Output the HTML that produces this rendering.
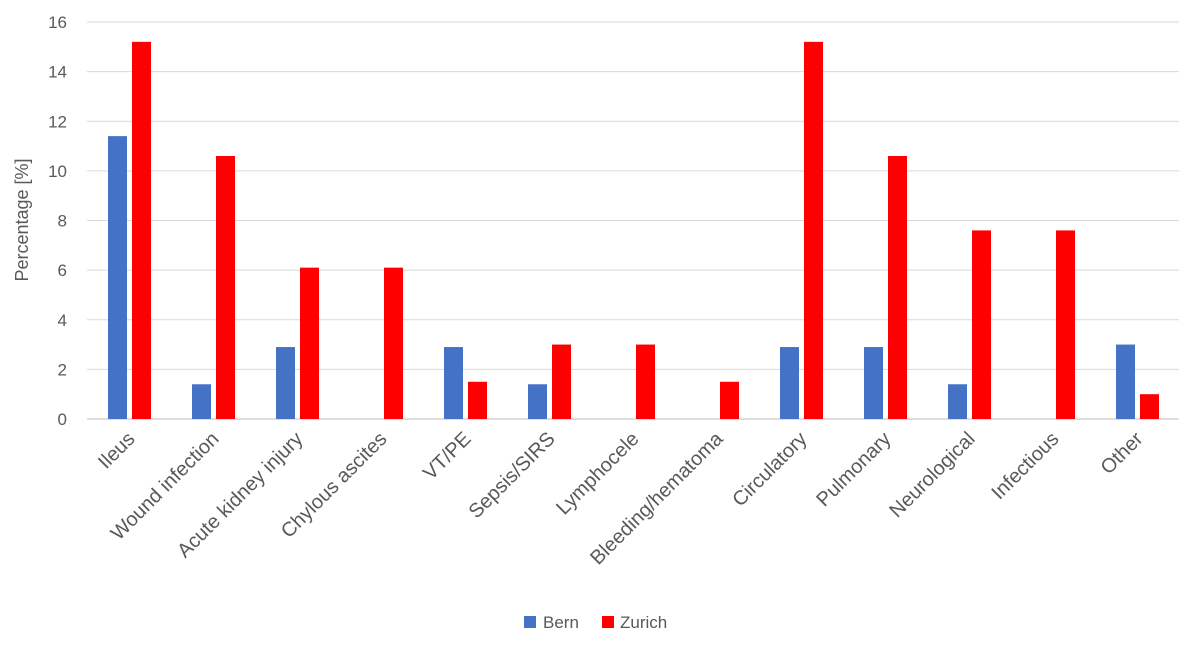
<!DOCTYPE html>
<html><head><meta charset="utf-8"><style>
body{margin:0;background:#fff;font-family:"Liberation Sans",Arial,sans-serif;}
svg text{font-family:"Liberation Sans",Arial,sans-serif;fill:#595959;}
</style></head><body>
<svg id="chart" width="1200" height="644" xmlns="http://www.w3.org/2000/svg"></svg>
<script>
const categories=["Ileus","Wound infection","Acute kidney injury","Chylous ascites","VT/PE","Sepsis/SIRS","Lymphocele","Bleeding/hematoma","Circulatory","Pulmonary","Neurological","Infectious","Other"];
const bern=[11.4,1.4,2.9,0,2.9,1.4,0,0,2.9,2.9,1.4,0,3.0];
const zurich=[15.2,10.6,6.1,6.1,1.5,3.0,3.0,1.5,15.2,10.6,7.6,7.6,1.0];
const yTicks=[0,2,4,6,8,10,12,14,16];
const svg=document.getElementById('chart');
const NS='http://www.w3.org/2000/svg';
const L=87,R=1179,T=22,B=419,yMax=16;
const y=v=>B-(v/yMax)*(B-T);
const step=(R-L)/categories.length;
const xc=i=>L+step*(i+0.5);
function mk(tag,attrs,txt){const e=document.createElementNS(NS,tag);for(const k in attrs)e.setAttribute(k,attrs[k]);if(txt!==undefined)e.textContent=txt;svg.appendChild(e);return e;}
yTicks.forEach(t=>{
 const g=mk('line',{x1:L,x2:R,y1:y(t),y2:y(t),stroke:t===0?'#bfbfbf':'#d9d9d9','stroke-width':1});
 
 
 const lb=mk('text',{x:67,y:y(t)+6,'text-anchor':'end','font-size':17},String(t));
 
 
});
const bw=19;
categories.forEach((c,i)=>{
 const cx=xc(i);
 const b=mk('rect',{x:cx-bw-2,y:y(bern[i]),width:bw,height:B-y(bern[i]),fill:'#4472C4'});
 
 
 const z=mk('rect',{x:cx+3,y:y(zurich[i]),width:bw,height:B-y(zurich[i]),fill:'#FF0000'});
 
 
 const ax=cx+7, ay=440;
 const t=mk('text',{x:ax,y:ay,'text-anchor':'end','font-size':20,transform:`rotate(-45 ${ax} ${ay})`},c);
 
 
});
const yt=mk('text',{x:28,y:220,'text-anchor':'middle','font-size':18,transform:'rotate(-90 28 220)'},'Percentage [%]');


const l1=mk('rect',{x:524,y:616,width:12,height:12,fill:'#4472C4'});


const l1t=mk('text',{x:543,y:628,'font-size':17},'Bern');


const l2=mk('rect',{x:602,y:616,width:12,height:12,fill:'#FF0000'});


const l2t=mk('text',{x:620,y:628,'font-size':17},'Zurich');


</script>
</body></html>
